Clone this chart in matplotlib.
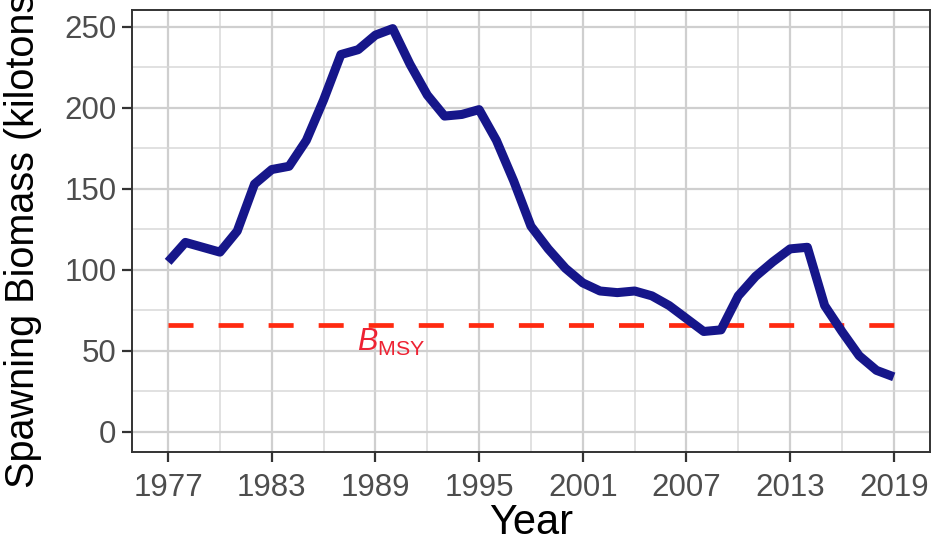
import numpy as np
import matplotlib
matplotlib.use("Agg")
import matplotlib.pyplot as plt
from matplotlib.ticker import MultipleLocator

plt.rcParams['font.family'] = ['Liberation Sans', 'DejaVu Sans']
plt.rcParams['mathtext.fontset'] = 'custom'
plt.rcParams['mathtext.rm'] = 'Liberation Sans'
plt.rcParams['mathtext.it'] = 'Liberation Sans:italic'

# spawning biomass by year (kilotons)
years = list(range(1977, 2020))
biomass = [105, 117, 114, 111, 124, 153, 162, 164, 180, 205,
           233, 236, 245, 249, 227, 208, 195, 196, 199, 180,
           155, 127, 113, 101, 92, 87, 86, 87, 84, 78,
           70, 62, 63, 84, 96, 105, 113, 114, 78, 62,
           47, 38, 34]
bmsy = 66
xticks = [1977, 1983, 1989, 1995, 2001, 2007, 2013, 2019]
yticks = [0, 50, 100, 150, 200, 250]

fig = plt.figure(figsize=(9.35, 5.43), dpi=100)
ax = fig.add_axes([0.141, 0.1676, 0.8537, 0.814])

ax.plot(years, biomass, color='#16168a', linewidth=6.5, solid_capstyle='butt',
        solid_joinstyle='round', zorder=3)
ax.plot([years[0], years[-1]], [bmsy, bmsy], color='#ff2a10', linewidth=3.4,
        dashes=(5.3, 5.3), zorder=2)
ax.text(1989.9, 55, r'$\mathit{B}_{\mathrm{MSY}}$', color='#ee2233', fontsize=22,
        ha='center', va='center', zorder=4)

ax.set_xlim(1974.9, 2021.1)
ax.set_ylim(-12.4, 260.5)
ax.set_xticks(xticks)
ax.set_yticks(yticks)
ax.xaxis.set_minor_locator(MultipleLocator(3))
ax.yaxis.set_minor_locator(MultipleLocator(25))

ax.grid(which='major', color='#cfcfcf', linewidth=1.6, zorder=0)
ax.grid(which='minor', color='#d8d8d8', linewidth=1.1, zorder=0)
ax.set_axisbelow(True)

for s in ax.spines.values():
    s.set_color('#333333')
    s.set_linewidth(1.4)

ax.tick_params(which='major', length=7, width=1.6, color='#333333',
               labelsize=22.5, labelcolor='#4d4d4d', pad=4)
ax.tick_params(axis='x', which='major', pad=8)
ax.tick_params(which='minor', length=0)

ax.set_xlabel('Year', fontsize=30, labelpad=0)
ax.set_ylabel('Spawning Biomass (kilotons)', fontsize=28.5)
ax.yaxis.set_label_coords(-0.113, 0.493)

fig.savefig('out.png', dpi=100)
